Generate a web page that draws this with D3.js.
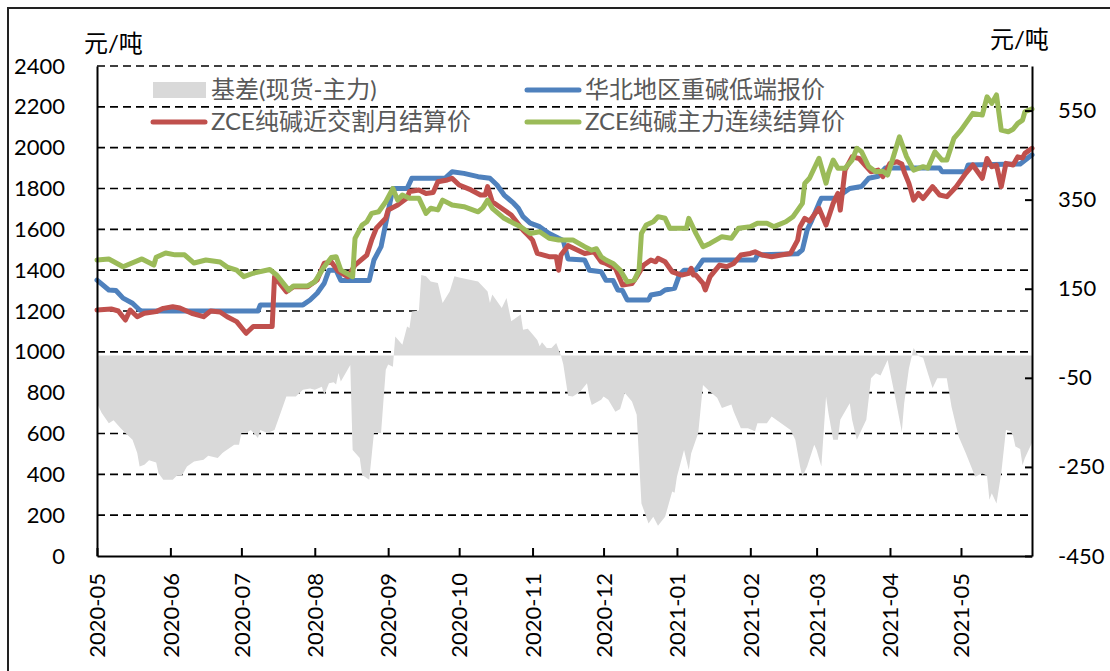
<!DOCTYPE html>
<html>
<head>
<meta charset="utf-8">
<script src="https://d3js.org/d3.v7.min.js"></script>
<style>
body{margin:0;background:#fff;}
svg text{font-family:Lato,"Noto Sans CJK SC",sans-serif;}
</style>
</head>
<body>
<svg id="chart" width="1110" height="671"></svg>
<script>
// 华北地区重碱低端报价
var spotDates=['2020-05-01','2020-05-06','2020-05-09','2020-05-12','2020-05-16','2020-05-19','2020-05-20','2020-07-08','2020-07-09','2020-07-27','2020-07-30','2020-08-02','2020-08-05','2020-08-07','2020-08-10','2020-08-12','2020-08-24','2020-08-26','2020-08-29','2020-08-31','2020-09-03','2020-09-09','2020-09-11','2020-09-25','2020-09-28','2020-10-03','2020-10-09','2020-10-14','2020-10-17','2020-10-20','2020-10-24','2020-10-26','2020-10-28','2020-10-31','2020-11-04','2020-11-08','2020-11-12','2020-11-14','2020-11-16','2020-11-23','2020-11-25','2020-11-30','2020-12-02','2020-12-05','2020-12-07','2020-12-09','2020-12-11','2020-12-20','2020-12-21','2020-12-25','2020-12-27','2020-12-31','2021-01-02','2021-01-04','2021-01-09','2021-01-12','2021-02-03','2021-02-04','2021-02-21','2021-02-23','2021-02-25','2021-02-27','2021-03-02','2021-03-03','2021-03-10','2021-03-12','2021-03-15','2021-03-20','2021-03-23','2021-03-27','2021-03-30','2021-04-22','2021-04-23','2021-05-03','2021-05-04','2021-05-26','2021-05-31'];
var spotPrice=[1351,1303,1300,1263,1238,1205,1200,1200,1230,1230,1254,1287,1336,1400,1400,1350,1350,1450,1515,1630,1800,1800,1850,1850,1882,1874,1858,1850,1817,1768,1728,1703,1662,1630,1613,1580,1556,1545,1455,1450,1400,1392,1351,1350,1303,1300,1254,1254,1278,1287,1303,1311,1376,1400,1400,1450,1450,1475,1480,1500,1596,1645,1727,1752,1752,1776,1800,1810,1850,1860,1900,1900,1882,1882,1915,1920,1965];

// ZCE纯碱近交割月结算价
var nearDates=['2020-05-01','2020-05-07','2020-05-10','2020-05-13','2020-05-15','2020-05-18','2020-05-21','2020-05-26','2020-05-29','2020-06-02','2020-06-05','2020-06-10','2020-06-15','2020-06-18','2020-06-22','2020-06-25','2020-06-29','2020-07-03','2020-07-06','2020-07-09','2020-07-14','2020-07-15','2020-07-20','2020-07-23','2020-07-29','2020-08-02','2020-08-05','2020-08-08','2020-08-11','2020-08-15','2020-08-18','2020-08-23','2020-08-25','2020-08-27','2020-08-31','2020-09-01','2020-09-05','2020-09-09','2020-09-10','2020-09-14','2020-09-17','2020-09-20','2020-09-22','2020-09-26','2020-09-28','2020-10-01','2020-10-06','2020-10-10','2020-10-12','2020-10-13','2020-10-15','2020-10-20','2020-10-23','2020-10-28','2020-10-30','2020-11-01','2020-11-03','2020-11-08','2020-11-11','2020-11-12','2020-11-13','2020-11-16','2020-11-17','2020-11-23','2020-11-27','2020-11-30','2020-12-02','2020-12-06','2020-12-09','2020-12-13','2020-12-15','2020-12-18','2020-12-21','2020-12-23','2020-12-24','2020-12-27','2020-12-30','2021-01-03','2021-01-06','2021-01-07','2021-01-08','2021-01-09','2021-01-12','2021-01-13','2021-01-15','2021-01-19','2021-01-22','2021-01-25','2021-01-28','2021-02-01','2021-02-03','2021-02-06','2021-02-10','2021-02-14','2021-02-18','2021-02-21','2021-02-22','2021-02-24','2021-02-26','2021-03-02','2021-03-05','2021-03-08','2021-03-10','2021-03-11','2021-03-13','2021-03-16','2021-03-19','2021-03-22','2021-03-24','2021-03-27','2021-03-29','2021-04-01','2021-04-04','2021-04-06','2021-04-07','2021-04-09','2021-04-11','2021-04-13','2021-04-15','2021-04-19','2021-04-22','2021-04-25','2021-04-29','2021-05-03','2021-05-06','2021-05-10','2021-05-12','2021-05-14','2021-05-16','2021-05-18','2021-05-20','2021-05-23','2021-05-25','2021-05-27','2021-05-28','2021-05-31'];
var nearPrice=[1205,1210,1200,1156,1205,1172,1189,1197,1213,1221,1215,1189,1172,1200,1195,1172,1148,1091,1124,1124,1124,1368,1294,1319,1319,1352,1434,1440,1394,1368,1425,1474,1547,1605,1655,1695,1719,1753,1785,1793,1776,1780,1833,1842,1850,1817,1793,1768,1768,1809,1735,1695,1670,1596,1572,1547,1482,1466,1466,1400,1474,1520,1515,1482,1490,1441,1433,1409,1327,1335,1368,1425,1450,1441,1458,1441,1392,1376,1384,1409,1376,1376,1335,1303,1368,1425,1417,1433,1474,1482,1490,1474,1466,1474,1482,1547,1613,1654,1640,1703,1621,1727,1776,1694,1890,1955,1947,1907,1882,1890,1858,1923,1931,1920,1882,1825,1743,1776,1751,1809,1768,1760,1809,1874,1915,1850,1947,1907,1915,1809,1923,1915,1955,1950,1972,1997];

// ZCE纯碱主力连续结算价
var mainDates=['2020-05-01','2020-05-06','2020-05-12','2020-05-20','2020-05-25','2020-05-26','2020-05-30','2020-06-03','2020-06-07','2020-06-11','2020-06-16','2020-06-22','2020-06-25','2020-06-29','2020-07-02','2020-07-06','2020-07-13','2020-07-16','2020-07-21','2020-07-23','2020-07-29','2020-08-01','2020-08-05','2020-08-08','2020-08-10','2020-08-12','2020-08-17','2020-08-18','2020-08-21','2020-08-23','2020-08-25','2020-08-28','2020-08-31','2020-09-03','2020-09-05','2020-09-07','2020-09-10','2020-09-14','2020-09-17','2020-09-19','2020-09-22','2020-09-24','2020-09-28','2020-10-03','2020-10-09','2020-10-11','2020-10-13','2020-10-15','2020-10-20','2020-10-24','2020-10-27','2020-10-31','2020-11-04','2020-11-08','2020-11-12','2020-11-18','2020-11-23','2020-11-26','2020-11-28','2020-11-30','2020-12-02','2020-12-05','2020-12-08','2020-12-11','2020-12-14','2020-12-16','2020-12-17','2020-12-19','2020-12-22','2020-12-24','2020-12-27','2020-12-29','2021-01-05','2021-01-06','2021-01-09','2021-01-12','2021-01-15','2021-01-20','2021-01-24','2021-01-27','2021-02-01','2021-02-04','2021-02-08','2021-02-11','2021-02-16','2021-02-19','2021-02-21','2021-02-23','2021-02-24','2021-02-26','2021-03-02','2021-03-05','2021-03-06','2021-03-08','2021-03-10','2021-03-13','2021-03-16','2021-03-18','2021-03-20','2021-03-23','2021-03-26','2021-03-29','2021-03-31','2021-04-02','2021-04-05','2021-04-08','2021-04-11','2021-04-15','2021-04-17','2021-04-20','2021-04-23','2021-04-25','2021-04-28','2021-05-01','2021-05-06','2021-05-10','2021-05-12','2021-05-14','2021-05-16','2021-05-18','2021-05-21','2021-05-23','2021-05-25','2021-05-27','2021-05-28','2021-05-31'];
var mainPrice=[1450,1455,1417,1455,1425,1463,1484,1475,1475,1435,1450,1440,1415,1400,1368,1385,1403,1375,1302,1323,1323,1343,1417,1462,1466,1400,1368,1556,1621,1637,1678,1686,1735,1800,1743,1768,1752,1752,1678,1703,1695,1743,1719,1711,1686,1705,1743,1703,1654,1630,1613,1580,1588,1556,1548,1548,1515,1498,1505,1466,1450,1433,1400,1343,1351,1400,1580,1621,1637,1662,1654,1605,1605,1654,1580,1515,1531,1564,1556,1605,1613,1630,1630,1613,1637,1662,1694,1727,1825,1850,1948,1826,1874,1939,1899,1899,1939,1997,1980,1907,1882,1885,1866,1939,2053,1956,1890,1907,1900,1980,1939,1939,2045,2086,2168,2160,2249,2217,2258,2086,2078,2090,2119,2135,2176,2190];

// 基差(现货-主力), right axis
var basisDates=['2020-05-01','2020-05-03','2020-05-06','2020-05-08','2020-05-11','2020-05-13','2020-05-16','2020-05-18','2020-05-19','2020-05-21','2020-05-23','2020-05-26','2020-05-27','2020-05-29','2020-06-02','2020-06-04','2020-06-06','2020-06-08','2020-06-11','2020-06-15','2020-06-17','2020-06-21','2020-06-23','2020-06-24','2020-06-28','2020-06-30','2020-07-01','2020-07-03','2020-07-05','2020-07-08','2020-07-09','2020-07-12','2020-07-15','2020-07-18','2020-07-20','2020-07-24','2020-07-27','2020-07-30','2020-08-01','2020-08-04','2020-08-05','2020-08-07','2020-08-09','2020-08-10','2020-08-11','2020-08-12','2020-08-16','2020-08-17','2020-08-20','2020-08-21','2020-08-24','2020-08-26','2020-08-29','2020-08-31','2020-09-01','2020-09-03','2020-09-04','2020-09-07','2020-09-09','2020-09-10','2020-09-11','2020-09-14','2020-09-15','2020-09-17','2020-09-19','2020-09-22','2020-09-24','2020-09-27','2020-09-29','2020-10-01','2020-10-09','2020-10-13','2020-10-14','2020-10-15','2020-10-19','2020-10-21','2020-10-23','2020-10-27','2020-10-28','2020-10-30','2020-11-01','2020-11-03','2020-11-04','2020-11-05','2020-11-07','2020-11-09','2020-11-11','2020-11-13','2020-11-14','2020-11-16','2020-11-18','2020-11-21','2020-11-24','2020-11-25','2020-11-26','2020-11-30','2020-12-01','2020-12-03','2020-12-06','2020-12-08','2020-12-10','2020-12-13','2020-12-15','2020-12-17','2020-12-20','2020-12-22','2020-12-24','2020-12-27','2020-12-30','2020-12-31','2021-01-01','2021-01-04','2021-01-06','2021-01-07','2021-01-10','2021-01-12','2021-01-15','2021-01-18','2021-01-20','2021-01-24','2021-01-25','2021-01-28','2021-01-31','2021-02-03','2021-02-04','2021-02-08','2021-02-10','2021-02-14','2021-02-18','2021-02-20','2021-02-22','2021-02-23','2021-02-25','2021-02-28','2021-03-01','2021-03-03','2021-03-05','2021-03-06','2021-03-08','2021-03-10','2021-03-11','2021-03-15','2021-03-16','2021-03-18','2021-03-22','2021-03-24','2021-03-26','2021-03-28','2021-03-31','2021-04-03','2021-04-06','2021-04-07','2021-04-09','2021-04-11','2021-04-13','2021-04-15','2021-04-17','2021-04-19','2021-04-21','2021-04-25','2021-04-27','2021-04-30','2021-05-03','2021-05-07','2021-05-10','2021-05-12','2021-05-13','2021-05-14','2021-05-16','2021-05-18','2021-05-20','2021-05-22','2021-05-23','2021-05-24','2021-05-26','2021-05-27','2021-05-28','2021-05-31'];
var basisValue=[-107,-129,-152,-145,-163,-174,-189,-219,-249,-245,-235,-240,-264,-279,-279,-268,-268,-249,-238,-234,-225,-230,-219,-215,-200,-200,-174,-174,-167,-185,-167,-174,-167,-122,-92,-92,-77,-74,-77,-70,-88,-62,-60,-65,-39,-58,-21,-212,-230,-268,-279,-174,-174,-32,-20,-25,43,24,65,62,99,101,181,178,166,163,118,144,178,175,166,144,118,137,107,129,77,92,58,60,48,35,21,30,17,17,28,0,-20,-90,-92,-82,-62,-92,-111,-99,-92,-99,-126,-120,-84,-103,-133,-332,-377,-362,-382,-362,-305,-308,-272,-212,-257,-220,-174,-66,-81,-95,-118,-110,-126,-163,-163,-170,-152,-152,-137,-152,-167,-189,-249,-272,-249,-200,-212,-249,-92,-129,-189,-189,-144,-107,-144,-189,-144,-51,-40,-45,-10,-88,-171,-107,-29,17,-1,-5,-40,-73,-51,-51,-115,-182,-219,-272,-264,-270,-324,-309,-332,-264,-167,-170,-180,-204,-210,-246,-230,-196];

var leftTicks=[0,200,400,600,800,1000,1200,1400,1600,1800,2000,2200,2400];
var rightTicks=[-450,-250,-50,150,350,550];
var seriesNames=['基差(现货-主力)','华北地区重碱低端报价','ZCE纯碱近交割月结算价','ZCE纯碱主力连续结算价'];

var parse=d3.timeParse('%Y-%m-%d');
function pairs(ds,vs){return ds.map(function(d,i){return {date:parse(d),value:vs[i]};});}
var spot=pairs(spotDates,spotPrice),near=pairs(nearDates,nearPrice),main=pairs(mainDates,mainPrice),basis=pairs(basisDates,basisValue);

var svg=d3.select('#chart');
var L=97,R=1032,T=66,B=556;
var x=d3.scaleTime().domain([parse('2020-05-01'),parse('2021-05-31')]).range([L,R]);
var yL=d3.scaleLinear().domain([0,2400]).range([B,T]);
var yR=d3.scaleLinear().domain([-450,650]).range([B,T]);

// border
svg.append('path').attr('d','M8,671V8H1110').attr('fill','none').attr('stroke','#222').attr('stroke-width',2);

// grid
svg.append('g').selectAll('line').data(leftTicks.filter(function(v){return v>0;})).enter().append('line')
.attr('x1',L).attr('x2',R).attr('y1',function(d){return yL(d);}).attr('y2',function(d){return yL(d);})
.attr('stroke','#000').attr('stroke-width',1.6).attr('stroke-dasharray','8,5');

// basis area
svg.append('path').datum(basis).attr('fill','#d9d9d9')
.attr('d',d3.area().x(function(d){return x(d.date);}).y0(yR(0)).y1(function(d){return yR(d.value);}));

// lines
var colors=['#d9d9d9','#4f81bd','#c0504d','#9bbb59'];
var line=d3.line().x(function(d){return x(d.date);}).y(function(d){return yL(d.value);});
[spot,near,main].forEach(function(s,i){
svg.append('path').datum(s).attr('d',line).attr('fill','none').attr('stroke',colors[i+1])
.attr('stroke-width',5).attr('stroke-linejoin','round').attr('stroke-linecap','round');
});

// axes
var gx=svg.append('g').attr('transform','translate(0,'+B+')')
.call(d3.axisBottom(x).ticks(d3.timeMonth.every(1)).tickFormat(d3.timeFormat('%Y-%m')).tickSizeInner(-8).tickSizeOuter(0).tickPadding(0));
gx.selectAll('text').attr('transform','translate(0,17) rotate(-90)').attr('text-anchor','end').attr('dx',0).attr('dy','0.35em').attr('y',0).attr('x',0);

var gl=svg.append('g').attr('transform','translate('+L+',0)')
.call(d3.axisLeft(yL).tickValues(leftTicks).tickFormat(function(d){return String(d);}).tickSize(0).tickPadding(32));
var gr=svg.append('g').attr('transform','translate('+R+',0)')
.call(d3.axisRight(yR).tickValues(rightTicks).tickFormat(function(d){return String(d);}).tickSizeInner(-7).tickSizeOuter(0).tickPadding(26));
[gx,gl,gr].forEach(function(g){
g.selectAll('.domain').attr('stroke','#000').attr('stroke-width',2);
g.selectAll('.tick line').attr('stroke','#000').attr('stroke-width',2);
g.selectAll('text').attr('font-family','Lato, sans-serif').attr('font-size',22).attr('fill','#000');
});
gr.selectAll('text').attr('text-anchor','start');

// units
svg.append('text').attr('x',84).attr('y',52).attr('font-size',24).attr('font-family','"Noto Sans CJK SC"').text('元/吨');
svg.append('text').attr('x',990).attr('y',48).attr('font-size',24).attr('font-family','"Noto Sans CJK SC"').text('元/吨');

// legend
var leg=[{x:153,y:90},{x:527,y:90},{x:153,y:122},{x:527,y:122}];
leg.forEach(function(p,i){
if(i===0){svg.append('rect').attr('x',p.x).attr('y',p.y-8).attr('width',53).attr('height',16).attr('fill',colors[0]);}
else{svg.append('line').attr('x1',p.x).attr('x2',p.x+52).attr('y1',p.y).attr('y2',p.y).attr('stroke',colors[i]).attr('stroke-width',5).attr('stroke-linecap','round');}
svg.append('text').attr('x',p.x+58).attr('y',p.y).attr('dy','0.35em').attr('font-size',24)
.attr('font-family','"Noto Sans CJK SC"').attr('fill','#595959').text(seriesNames[i]);
});
</script>
</body>
</html>
